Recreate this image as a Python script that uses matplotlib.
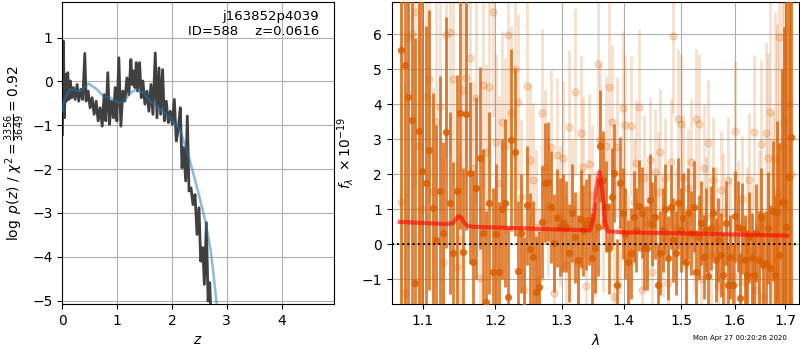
import matplotlib
matplotlib.use('Agg')
import matplotlib.pyplot as plt
from matplotlib.ticker import FixedLocator, NullLocator, FixedFormatter

# ---- p(z) panel ----
z_pz = [0.000, 0.018, 0.037, 0.055, 0.073, 0.098, 0.122, 0.146, 0.171, 0.201,
        0.232, 0.268, 0.299, 0.335, 0.372, 0.409, 0.433, 0.470, 0.506, 0.543,
        0.579, 0.616, 0.652, 0.689, 0.726, 0.762, 0.793, 0.829, 0.860, 0.896,
        0.933, 0.963, 0.994, 1.030, 1.067, 1.104, 1.140, 1.177, 1.213, 1.250,
        1.274, 1.299, 1.323, 1.348, 1.372, 1.409, 1.439, 1.470, 1.506, 1.543,
        1.579, 1.616, 1.652, 1.695, 1.726, 1.762, 1.793, 1.829, 1.860, 1.896,
        1.933, 1.970, 2.006, 2.043, 2.079, 2.116, 2.152, 2.183, 2.213, 2.250,
        2.280, 2.311, 2.348, 2.384, 2.421, 2.457, 2.494, 2.524, 2.561, 2.591,
        2.628, 2.659, 2.689, 2.713]
logp = [-1.21, 0.92, -0.83, 0.16, -0.45, 0.20, -0.41, 0.01, -0.37, -0.14,
        -0.41, -0.07, -0.45, -0.18, -0.41, 0.64, -0.45, -0.22, -0.60, -0.37,
        -0.75, -0.45, -0.90, -0.60, -1.02, -0.30, -0.90, 0.20, -0.98, -0.45,
        -0.83, -0.14, -0.90, 0.54, -1.02, -0.22, -0.45, 0.08, -0.30, 0.50,
        -0.07, 0.24, -0.14, 0.43, -0.22, 0.43, -0.37, 0.01, -0.52, -0.22,
        -0.68, -0.07, -0.75, 0.65, -0.83, 0.31, -0.75, 0.27, -0.90, -0.45,
        -0.94, -0.68, -0.98, -0.41, -1.36, -1.06, -0.60, -1.97, -1.51, -2.27,
        -0.79, -2.50, -2.43, -2.81, -2.58, -3.49, -2.88, -4.10, -3.79, -4.63,
        -3.22, -5.01, -4.59, -5.39]

z_smooth = [0.00, 0.02, 0.14, 0.32, 0.48, 0.63, 0.75, 0.87, 1.02, 1.12, 1.24,
            1.35, 1.48, 1.60, 1.79, 1.97, 2.15, 2.33, 2.49, 2.61, 2.70, 2.76,
            2.81, 2.84]
logp_smooth = [-0.68, -0.45, -0.18, -0.22, -0.05, -0.18, -0.34, -0.37, -0.49,
               -0.45, -0.26, -0.18, -0.26, -0.45, -0.64, -0.83, -1.10, -1.82,
               -2.58, -3.19, -3.80, -4.41, -5.02, -5.40]

# ---- spectrum panel ----
wave = [10720, 10766, 10812, 10858, 10904, 10950, 10996, 11042, 11088, 11134,
        11180, 11226, 11272, 11318, 11364, 11410, 11456, 11502, 11548, 11594,
        11640, 11686, 11732, 11778, 11824, 11870, 11916, 11962, 12008, 12054,
        12100, 12146, 12192, 12238, 12284, 12330, 12376, 12422, 12468, 12514,
        12560, 12606, 12652, 12698, 12744, 12790, 12836, 12882, 12928, 12974,
        13020, 13066, 13112, 13158, 13204, 13250, 13296, 13342, 13388, 13434,
        13480, 13526, 13572, 13618, 13664, 13710, 13756, 13802, 13848, 13894,
        13940, 13986, 14032, 14078, 14124, 14170, 14216, 14262, 14308, 14354,
        14400, 14446, 14492, 14538, 14584, 14630, 14676, 14722, 14768, 14814,
        14860, 14906, 14952, 14998, 15044, 15090, 15136, 15182, 15228, 15274,
        15320, 15366, 15412, 15458, 15504, 15550, 15596, 15642, 15688, 15734,
        15780, 15826, 15872, 15918, 15964, 16010, 16056, 16102, 16148, 16194,
        16240, 16286, 16332, 16378, 16424, 16470, 16516, 16562, 16608, 16654,
        16700, 16746, 16792, 16838, 16884, 16930, 16976, 17022, 17068, 17114]

flux_dark = [5.55, 5.12, 4.22, 3.55, -1.11, 3.24, 2.10, 1.74, 2.70, 1.03,
             0.12, 1.51, 0.31, 3.20, 1.17, -0.26, 1.53, 3.74, -0.21, 3.71,
             2.05, -0.51, 1.60, 2.46, 0.31, -1.64, 1.17, -0.78, 0.30, -0.78,
             1.00, 1.17, -1.50, 2.98, 2.65, -0.75, 0.31, -1.78, 1.12, -0.14,
             -0.35, -1.35, -1.21, 0.65, 1.76, 1.79, 1.08, 0.03, 0.74, 0.50,
             0.60, 0.50, -0.26, 0.90, 0.20, -0.45, 0.71, 0.40, 0.58, 0.70,
             -0.40, -0.10, 0.50, 2.82, 1.84, 1.08, -0.11, 1.36, 2.05, -1.16,
             1.76, 0.89, 0.30, -0.50, -0.26, 0.79, 0.41, 1.10, 0.90, -0.11,
             -0.10, 1.27, 0.58, 0.79, -1.17, -0.26, 0.40, 1.00, -0.40, 1.08,
             0.12, -0.26, 1.17, 0.41, 0.74, -0.50, 0.89, 0.31, 1.08, -0.80,
             0.22, 0.62, -0.35, 0.41, -0.90, 0.46, 0.90, -0.45, 0.12, -0.30,
             -0.88, 0.60, -1.16, -0.35, -1.16, 0.80, 0.50, -1.54, 0.45, -0.45,
             -0.88, 0.20, -0.40, -0.88, 0.31, -0.45, 0.79, -0.59, -0.54, 0.48,
             -0.67, 0.96, -0.88, 0.93, -0.30, 1.20, 1.20, 0.50, 1.93, 3.06]
err_dark = [9.0, 9.0, 8.0, 8.0, 7.0, 6.0, 5.0, 4.5, 4.0, 3.3,
            3.3, 3.3, 2.6, 3.3, 2.6, 2.6, 3.3, 3.3, 2.4, 3.3,
            2.6, 2.6, 2.6, 2.6, 2.4, 2.6, 2.6, 2.4, 2.0, 2.0,
            2.0, 2.4, 2.0, 2.6, 2.4, 2.0, 1.7, 2.0, 1.7, 1.6,
            1.6, 1.6, 1.6, 1.6, 1.7, 1.7, 1.6, 1.4, 1.4, 1.4,
            1.4, 1.3, 1.4, 1.4, 1.3, 1.3, 1.4, 1.3, 1.3, 1.3,
            1.3, 1.3, 1.4, 1.6, 1.4, 1.3, 1.3, 1.4, 1.4, 1.3,
            1.3, 1.3, 1.3, 1.2, 1.3, 1.3, 1.2, 1.3, 1.3, 1.2,
            1.2, 1.3, 1.2, 1.2, 1.2, 1.2, 1.2, 1.3, 1.2, 1.2,
            1.2, 1.2, 1.3, 1.2, 1.3, 1.2, 1.3, 1.2, 1.3, 1.2,
            1.2, 1.2, 1.2, 1.2, 1.2, 1.2, 1.3, 1.2, 1.2, 1.2,
            1.2, 1.2, 1.2, 1.2, 1.2, 1.3, 1.3, 1.3, 1.3, 1.3,
            1.3, 1.3, 1.3, 1.3, 1.4, 1.4, 1.4, 1.5, 1.5, 1.6,
            1.8, 2.0, 2.3, 2.6, 3.2, 3.8, 5.0, 7.0, 9.0, 10.0]

flux_light = [1.20, -1.40, 5.90, 6.00, 6.65, 2.80, 1.00, 4.22, 4.71, 1.50,
              3.50, 3.93, -0.50, 5.98, 6.08, 4.71, -0.64, 0.12, 4.41, 4.74,
              5.31, 2.17, 4.17, -0.97, 4.55, 2.65, 4.49, 6.65, 2.93, 1.74,
              3.50, 2.82, 5.98, 3.74, 5.00, 4.08, 1.36, -1.30, 4.52, 2.40,
              1.84, 0.50, -1.00, 3.74, 2.20, 1.10, 2.79, -1.40, 2.55, 0.80,
              2.48, -0.60, 3.36, 1.00, 4.34, -0.50, 3.17, 2.20, -1.20, 2.30,
              1.40, 0.30, 5.14, 2.98, 0.65, 2.80, 4.49, 3.50, -1.50, 2.79,
              0.40, 3.89, 3.41, -0.40, 3.38, 1.20, 2.31, 3.91, -1.30, 1.90,
              0.60, 2.41, -0.80, 2.08, 1.50, 2.65, 0.20, 1.90, -1.10, 2.36,
              5.95, 0.50, 3.58, 3.44, 1.89, -0.60, 1.60, 2.36, 0.30, 3.58,
              3.44, -1.00, 2.17, 0.80, 2.89, -0.30, 1.84, 0.50, -1.20, 1.55,
              0.90, -0.50, 1.84, 0.20, -0.90, 3.24, 0.60, -0.40, 1.30, -1.10,
              0.30, 1.84, -0.20, 3.20, -1.30, 0.50, 2.87, -1.50, 3.17, 2.46,
              3.79, 0.20, 2.45, 1.50, 5.93, 2.80, 3.50, 1.00, 4.00, 2.00]
err_light = [7.0, 6.0, 6.0, 6.0, 5.0, 5.0, 4.0, 3.5, 3.5, 3.0,
             3.5, 3.0, 3.0, 3.5, 3.5, 3.0, 3.0, 2.5, 3.0, 3.0,
             3.0, 2.5, 3.0, 2.5, 3.0, 2.5, 3.0, 3.0, 2.5, 2.5,
             2.6, 2.5, 3.0, 2.5, 2.6, 2.5, 2.2, 2.2, 2.6, 2.2,
             2.2, 2.2, 2.0, 2.4, 2.2, 2.0, 2.2, 2.0, 2.2, 2.0,
             2.2, 2.0, 2.2, 2.0, 2.4, 2.0, 2.2, 2.0, 2.0, 2.0,
             2.0, 1.8, 2.4, 2.2, 2.0, 2.0, 2.4, 2.2, 1.8, 2.0,
             1.8, 2.2, 2.0, 1.8, 2.0, 1.8, 1.8, 2.2, 1.8, 1.8,
             1.7, 1.8, 1.7, 1.8, 1.7, 1.8, 1.7, 1.7, 1.7, 1.8,
             2.2, 1.7, 2.0, 2.0, 1.8, 1.7, 1.7, 1.8, 1.7, 2.0,
             2.0, 1.7, 1.8, 1.7, 1.8, 1.7, 1.8, 1.7, 1.7, 1.7,
             1.7, 1.7, 1.8, 1.7, 1.7, 2.0, 1.8, 1.8, 1.8, 1.8,
             1.9, 1.9, 1.9, 2.2, 2.0, 2.2, 2.4, 2.4, 2.6, 3.0,
             3.6, 3.6, 4.2, 4.8, 5.4, 6.0, 7.0, 8.0, 9.0, 9.0]

model_wave = [1.070, 1.100, 1.130, 1.140, 1.145, 1.148, 1.152, 1.157, 1.161,
              1.170, 1.200, 1.250, 1.300, 1.345, 1.350, 1.355, 1.360, 1.365,
              1.370, 1.374, 1.400, 1.517, 1.600, 1.704]
model_flux = [0.64, 0.61, 0.58, 0.60, 0.72, 0.80, 0.76, 0.60, 0.52,
              0.50, 0.48, 0.45, 0.42, 0.40, 0.70, 1.60, 2.07, 1.50,
              0.60, 0.37, 0.34, 0.31, 0.28, 0.25]

fig = plt.figure(figsize=(8, 3.5), dpi=100)

ax1 = fig.add_axes([0.078, 0.131, 0.339, 0.863])
ax1.plot(z_pz, logp, color='0.25', linewidth=2, zorder=2)
ax1.plot(z_smooth, logp_smooth, color='#1f77b4', alpha=0.5, linewidth=1.8, zorder=3)
ax1.set_xlim(0, 4.95)
ax1.set_ylim(-5.08, 1.81)
ax1.set_xticks([0, 1, 2, 3, 4])
ax1.set_yticks([-5, -4, -3, -2, -1, 0, 1])
ax1.grid(True)
ax1.set_xlabel(r'$z$')
ax1.set_ylabel(r'$\log\ p(z)$' + ' / ' + r'$\chi^2=\frac{3356}{3649}=0.92$')
ax1.text(0.947, 0.975, 'j163852p4039\nID=588    z=0.0616', transform=ax1.transAxes,
         ha='right', va='top', fontsize=9.5)

ax2 = fig.add_axes([0.4896, 0.131, 0.5095, 0.863])
wave_um = [w / 1.e4 for w in wave]
ax2.errorbar(wave_um, flux_light, yerr=err_light, fmt='o', color='#d95f02',
             alpha=0.2, markersize=5, elinewidth=2, capsize=0, zorder=2)
ax2.errorbar(wave_um, flux_dark, yerr=err_dark, fmt='o', color='#d95f02',
             alpha=0.8, markersize=4.2, elinewidth=2, capsize=0, zorder=3)
ax2.plot(model_wave, model_flux, color='r', alpha=0.6, linewidth=3, zorder=4)
ax2.axhline(0, color='k', linestyle=':', linewidth=1.4, zorder=5)
ax2.set_xscale('log')
ax2.set_xlim(1.0598, 1.729)
ax2.set_ylim(-1.71, 6.92)
ax2.xaxis.set_major_locator(FixedLocator([1.1, 1.2, 1.3, 1.4, 1.5, 1.6, 1.7]))
ax2.xaxis.set_major_formatter(FixedFormatter(['1.1', '1.2', '1.3', '1.4', '1.5', '1.6', '1.7']))
ax2.xaxis.set_minor_locator(NullLocator())
ax2.set_yticks([-1, 0, 1, 2, 3, 4, 5, 6])
ax2.grid(True)
ax2.set_xlabel(r'$\lambda$')
ax2.set_ylabel(r'$f_\lambda\ \times 10^{-19}$')

fig.text(0.983, 0.025, 'Mon Apr 27 00:20:26 2020', ha='right', va='bottom', fontsize=5)

fig.savefig('out.png', dpi=100)
